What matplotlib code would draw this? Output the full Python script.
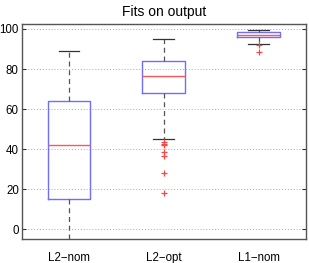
#!/usr/bin/env python3
# Boxplot of fit quality on output, MATLAB look.

import matplotlib.pyplot as plt

labels = ["L2\u2212nom", "L2\u2212opt", "L1\u2212nom"]
whislo = [-20, 45, 92.5]
q1 = [15, 68, 96.1]
med = [42, 76.5, 97.1]
q3 = [64, 84, 98.5]
whishi = [89, 95, 99.5]
fliers = [
    [],
    [43.8, 42.6, 42.2, 38.8, 36.6, 28.3, 18],
    [92.1, 88.6],
]

stats = []
for i in range(len(labels)):
    stats.append(
        dict(
            label=labels[i],
            whislo=whislo[i],
            q1=q1[i],
            med=med[i],
            q3=q3[i],
            whishi=whishi[i],
            fliers=fliers[i],
        )
    )

plt.rcParams["font.family"] = ["Liberation Sans", "DejaVu Sans"]

fig = plt.figure(figsize=(3.09, 2.63), dpi=100)
ax = fig.add_axes([0.07, 0.09, 0.92, 0.819])
ax.bxp(
    stats,
    widths=0.45,
    boxprops=dict(color="#6f6fff", linewidth=1.0),
    medianprops=dict(color="#ff5555", linewidth=1.0),
    whiskerprops=dict(color="#555555", linestyle=(0, (4, 3)), linewidth=0.9),
    capprops=dict(color="#333333", linewidth=0.9),
    capwidths=0.22,
    flierprops=dict(marker="+", markeredgecolor="#ff4444", markersize=4,
                    markeredgewidth=0.9, linestyle="none"),
)
ax.set_xlim(0.5, 3.5)
ax.set_ylim(-5, 102.5)
ax.set_yticks([0, 20, 40, 60, 80, 100])
ax.set_title("Fits on output", fontsize=10, pad=6)
ax.tick_params(axis="both", labelsize=8.3, direction="in", length=3,
               right=True, color="#333333")
ax.tick_params(axis="y", pad=2)
ax.tick_params(axis="x", length=0, pad=9)
ax.yaxis.grid(True, color="#aaaaaa", linestyle=(0, (1, 2)), linewidth=0.7)
for s in ax.spines.values():
    s.set_color("#555555")
    s.set_linewidth(1.0)
fig.savefig("out.png", dpi=100)
